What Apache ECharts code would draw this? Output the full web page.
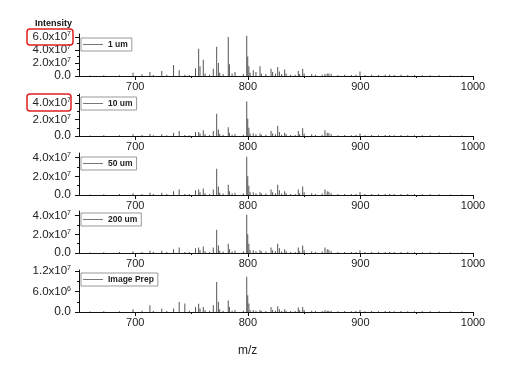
<!DOCTYPE html>
<html><head><meta charset="utf-8">
<script src="https://cdn.jsdelivr.net/npm/echarts@6/dist/echarts.min.js"></script>
<style>html,body{margin:0;padding:0;background:#fff}#c{width:528px;height:370px}</style>
</head><body><div id="c"></div>
<script>
// Peak positions (m/z), shared by all panels
const peakMz = [660,672,686,698,706,713,716,723.5,728,734,739,744,748,753.5,756.3,757.5,760.4,762,766,769.3,772.3,773.8,775,778,782.6,783.6,786,788.6,796,799,799.9,800.9,802,804.8,807.2,810.8,812,816,820.6,822,824.5,826.5,828,830,832.7,834,838,842,844.8,846,848.7,850,856.7,860,866,868.5,870.5,872,874,880,886,892,896,899.6,904,910,916,922,926,930,936,942,948,955,962,970,980,990];
// Intensities in units of 1e6
const int1um = [0.8,1.0,1.2,5,2.5,6,1.5,7.5,2,17,9,2,1.5,12,42,15,25,4,2,11,45,20,5,3,60,18,4,6,3,62,30,15,5,9,6,15,4,3,11,6,4,14,7,3,10,4,2,2,7.5,3,11,4,3,2,2,3,4,4,3,1.5,2,1.5,2,7,1.5,2,1.5,2,2,1.5,2,1.5,1.5,1,1,1,0.8,0.8];
const int10um = [0.6,0.8,1.0,2,1.2,2.5,1,2,1,4,6,1.2,1,5,5,3,7,2,1.2,6,27,8,2.5,1.5,10.5,4,1.5,2.5,1.5,42,21,10,3,3,2,3,1.5,1.5,6,3,2,12.5,5,1.5,4,2,1.2,1.2,6,2,9.5,3,2,1.2,1.5,7,4,3.5,2,1,1.2,1,1.2,3,1,1.2,1,1.2,1.2,1,1.2,1,1,0.8,0.8,0.8,0.6,0.6];
const int50um = [0.6,0.8,1.0,2,1.2,2.5,1,2.5,1,4,6,1.2,1,5,6,3,7,2,1.2,6,28,9,2.5,1.5,11,4,1.5,2.5,1.5,41,20,10,3,3,2,3,1.5,1.5,6,3,2,11,5,1.5,4,2,1.2,1.2,6,2,9,3,2,1.2,1.5,6,4,3.5,2,1,1.2,1,1.2,3,1,1.2,1,1.2,1.2,1,1.2,1,1,0.8,0.8,0.8,0.6,0.6];
const int200um = [0.6,0.8,1.0,2,1.2,2.5,1,2.5,1,4,6,1.2,1,5,6,3,7,2,1.2,6,25,8,2.5,1.5,10,4,1.5,2.5,1.5,41,20,10,3,3,2,3,1.5,1.5,6,3,2,10,5,1.5,4,2,1.2,1.2,6,2,8,3,2,1.2,1.5,6,4,3.5,2,1,1.2,1,1.2,3,1,1.2,1,1.2,1.2,1,1.2,1,1,0.8,0.8,0.8,0.6,0.6];
const intImagePrep = [0.15,0.2,0.25,0.8,0.4,2.0,0.3,1.0,0.3,1.0,2.9,2.5,0.4,1.5,2.4,1.0,1.5,0.5,0.4,2.0,8.8,3.0,0.8,0.4,3.4,1.5,0.4,0.6,0.4,10.3,4.9,2.5,0.6,0.6,0.4,0.6,0.3,0.3,1.5,0.6,0.4,1.7,0.8,0.3,0.8,0.4,0.3,0.3,1.3,0.5,1.5,0.6,0.4,0.3,0.3,0.5,0.4,0.4,0.3,0.2,0.3,0.2,0.3,0.6,0.2,0.3,0.2,0.3,0.3,0.2,0.3,0.2,0.2,0.2,0.2,0.2,0.15,0.15];

const panelNames = ['1 um','10 um','50 um','200 um','Image Prep'];
const panelIntensities = [int1um,int10um,int50um,int200um,intImagePrep];
const yMax = [6.45e7,5.1e7,4.5e7,4.5e7,1.23e7];
const yMajorTicks = [[0,2e7,4e7,6e7],[0,2e7,4e7],[0,2e7,4e7],[0,2e7,4e7],[0,6e6,1.2e7]];
const yMinorTicks = [[1e7,3e7,5e7],[1e7,3e7,5e7],[1e7,3e7],[1e7,3e7],[3e6,9e6]];
const xMajorTicks = [700,800,900,1000];
const xMinorTicks = [750,850,950];

const FONT = 'Liberation Sans, Arial, sans-serif';
const gridTops = [34,94,153,211,270];
const gridH = 42;
const legendTops = [38,97,157,213,273];

function sci(v){
  if (v === 0) return '0.0';
  const e = Math.floor(Math.log10(v) + 1e-9);
  const m = v / Math.pow(10, e);
  return '{m|' + m.toFixed(1) + 'x10}{e|' + e + '}';
}

const grid = [], xAxis = [], yAxis = [], series = [], legend = [];
panelNames.forEach((name, i) => {
  grid.push({left:79, right:55, top:gridTops[i], height:gridH});
  xAxis.push({
    type:'value', gridIndex:i, min:650, max:1000, position:'bottom',
    axisLine:{show:true, lineStyle:{color:'#111', width:1}},
    axisTick:{show:true, customValues:xMajorTicks, length:4, lineStyle:{color:'#111'}},
    axisLabel:{customValues:xMajorTicks, formatter:(v)=>String(v), fontSize:11, color:'#222', fontFamily:FONT, margin:5},
    splitLine:{show:false}
  });
  xAxis.push({
    type:'value', gridIndex:i, min:650, max:1000, position:'bottom', offset:0,
    axisLine:{show:false},
    axisTick:{show:true, customValues:xMinorTicks, length:2, lineStyle:{color:'#111'}},
    axisLabel:{show:false}, splitLine:{show:false}
  });
  yAxis.push({
    type:'value', gridIndex:i, min:0, max:yMax[i], position:'left',
    axisLine:{show:true, lineStyle:{color:'#111', width:1}},
    axisTick:{show:true, customValues:yMajorTicks[i], length:4, lineStyle:{color:'#111'}},
    axisLabel:{customValues:yMajorTicks[i], formatter:sci, margin:8, color:'#222', fontFamily:FONT,
      rich:{m:{fontSize:11.5, color:'#222', fontFamily:FONT}, e:{fontSize:7, color:'#222', fontFamily:FONT, verticalAlign:'top', padding:[0,0,5,0]}}},
    splitLine:{show:false}
  });
  yAxis.push({
    type:'value', gridIndex:i, min:0, max:yMax[i], position:'left', offset:0,
    axisLine:{show:false},
    axisTick:{show:true, customValues:yMinorTicks[i], length:2, lineStyle:{color:'#111'}},
    axisLabel:{show:false}, splitLine:{show:false}
  });
  series.push({
    type:'bar', name:name, xAxisIndex:2*i, yAxisIndex:2*i, barWidth:1,
    itemStyle:{color:'#555'},
    data: peakMz.map((mz, k) => [mz, panelIntensities[i][k] * 1e6]),
    animation:false, silent:true
  });
  legend.push({
    data:[name], left:81, top:legendTops[i], orient:'horizontal',
    borderColor:'#999', borderWidth:1, padding:[2,4,2,2],
    itemWidth:20, itemHeight:1, icon:'rect', itemStyle:{color:'#777'},
    textStyle:{fontSize:8.5, fontWeight:'bold', color:'#222', fontFamily:FONT},
    selectedMode:false
  });
});

const chart = echarts.init(document.getElementById('c'), null, {renderer:'canvas'});
chart.setOption({
  backgroundColor:'#fff',
  animation:false,
  title:[
    {text:'Intensity', left:30, top:14, textStyle:{fontSize:9, fontWeight:'bold', color:'#111', fontFamily:FONT}},
    {text:'m/z', left:233, top:340, textStyle:{fontSize:12, fontWeight:'normal', color:'#222', fontFamily:FONT}}
  ],
  grid, xAxis, yAxis, series, legend,
  graphic:[
    {type:'rect', shape:{x:27, y:29, width:46, height:16, r:3}, style:{fill:'none', stroke:'#e02020', lineWidth:1.5}, z:100},
    {type:'rect', shape:{x:27, y:94, width:44, height:17, r:3}, style:{fill:'none', stroke:'#e02020', lineWidth:1.5}, z:100}
  ]
});
</script>
</body></html>
